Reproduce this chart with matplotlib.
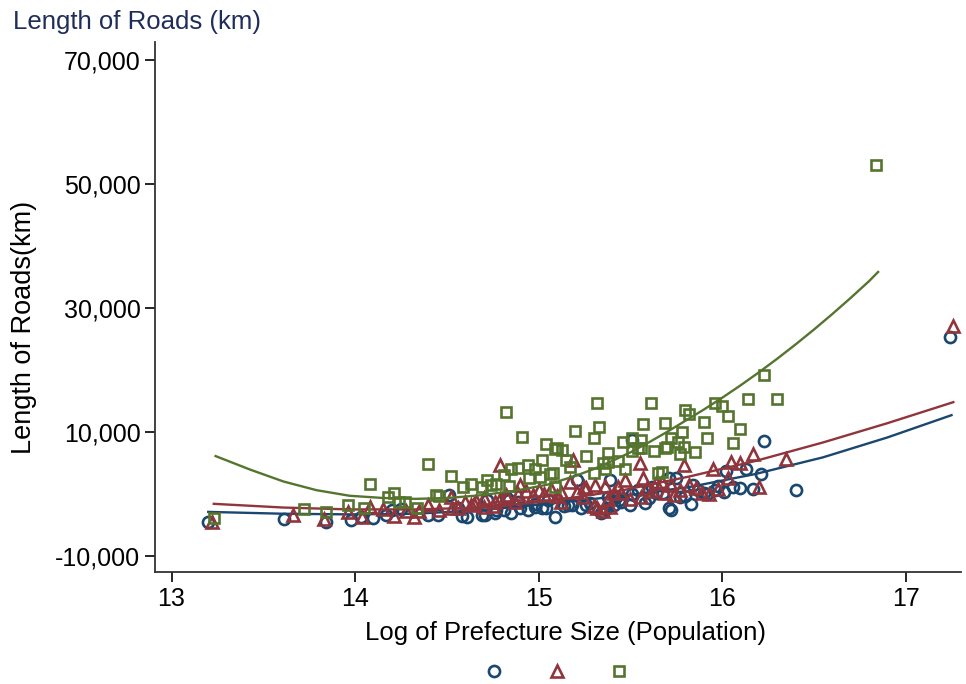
import numpy as np
import matplotlib
matplotlib.use("Agg")
import matplotlib.pyplot as plt
from matplotlib.lines import Line2D
from matplotlib.ticker import FuncFormatter

plt.rcParams['font.family'] = ['Liberation Sans', 'DejaVu Sans']

# log of prefecture population, and road length (km) for three series
blue_x = [13.20, 13.61, 13.84, 13.98, 14.03, 14.10, 14.17, 14.20, 14.25, 14.40,
          14.45, 14.51, 14.56, 14.58, 14.61, 14.69, 14.71, 14.72, 14.76, 14.77,
          14.81, 14.82, 14.84, 14.85, 14.89, 14.90, 14.94, 14.98, 14.98, 15.02,
          15.04, 15.05, 15.09, 15.14, 15.16, 15.18, 15.21, 15.23, 15.26, 15.28,
          15.30, 15.34, 15.35, 15.37, 15.38, 15.39, 15.41, 15.42, 15.44, 15.45,
          15.50, 15.51, 15.51, 15.54, 15.58, 15.60, 15.62, 15.64, 15.68, 15.71,
          15.71, 15.72, 15.75, 15.77, 15.80, 15.83, 15.84, 15.87, 15.90, 15.92,
          15.96, 15.98, 16.01, 16.02, 16.06, 16.10, 16.13, 16.17, 16.21, 16.23,
          16.40, 17.24]
blue_y = [-4500, -4000, -4500, -4200, -3700, -3900, -3400, -2600, -2400, -3400,
          -3400, -200, -2300, -3500, -3700, -3400, -3400, -1000, -3100, -2600,
          -2600, -500, -1000, -3100, -1300, -2300, -2600, -2100, -1600, -2300,
          -2300, -1000, -3700, -1900, -1800, -1800, 2300, -2300, -1800, -1500,
          -2300, -3100, -2900, -2400, -500, 2300, -1800, -500, -1000, -1300,
          -1800, 0, 8700, 600, -1500, -600, 1100, 200, 200, 2600,
          -2300, -2600, 2600, -500, -300, -1600, 1500, 600, 200, 0,
          600, 1300, 300, 3700, 1100, 1000, 4000, 800, 3200, 8500,
          600, 25300]

red_x = [13.22, 13.66, 13.83, 13.96, 14.04, 14.08, 14.15, 14.21, 14.28, 14.32,
         14.35, 14.40, 14.46, 14.52, 14.53, 14.56, 14.60, 14.63, 14.65, 14.66,
         14.70, 14.70, 14.75, 14.76, 14.79, 14.79, 14.82, 14.83, 14.87, 14.89,
         14.90, 14.93, 14.97, 15.00, 15.03, 15.07, 15.10, 15.12, 15.12, 15.17,
         15.19, 15.21, 15.24, 15.25, 15.26, 15.30, 15.31, 15.32, 15.35, 15.36,
         15.38, 15.39, 15.41, 15.43, 15.45, 15.47, 15.50, 15.55, 15.56, 15.57,
         15.59, 15.62, 15.64, 15.67, 15.69, 15.72, 15.74, 15.77, 15.79, 15.82,
         15.86, 15.89, 15.93, 15.95, 15.98, 16.03, 16.05, 16.10, 16.17, 16.20,
         16.35, 17.26]
red_y = [-4500, -3400, -4000, -2900, -3700, -2100, -2400, -3500, -2700, -3700,
         -2700, -1800, -2600, -500, -2300, -2300, -1300, -1800, -1600, -1100,
         -600, -2100, -1900, -1300, 4700, -800, -200, -500, -1300, 0,
         1500, 500, -200, 600, 0, 800, -300, -1300, 300, 1900,
         5500, 300, -500, 1100, 1000, -1900, 1500, -2300, -2700, 1300,
         -800, -2100, 200, 1100, 200, 2300, -800, 5000, -500, 2600,
         1000, 500, 1800, 1900, 200, 1500, -200, 600, 4700, 1500,
         1000, 200, 0, 4000, 800, 2600, 5200, 5000, 6500, 1100,
         5600, 27100]

green_x = [13.23, 13.72, 13.84, 13.96, 14.05, 14.08, 14.18, 14.21, 14.24, 14.27,
           14.34, 14.40, 14.44, 14.46, 14.52, 14.59, 14.63, 14.69, 14.72, 14.74,
           14.77, 14.81, 14.82, 14.84, 14.85, 14.89, 14.91, 14.94, 14.95, 14.98,
           15.01, 15.02, 15.04, 15.06, 15.08, 15.09, 15.09, 15.10, 15.13, 15.15,
           15.17, 15.20, 15.26, 15.30, 15.30, 15.32, 15.33, 15.35, 15.36, 15.38,
           15.38, 15.43, 15.46, 15.47, 15.51, 15.51, 15.54, 15.56, 15.56, 15.57,
           15.61, 15.63, 15.65, 15.67, 15.69, 15.69, 15.70, 15.72, 15.76, 15.77,
           15.78, 15.79, 15.80, 15.82, 15.85, 15.90, 15.92, 15.96, 16.00, 16.03,
           16.06, 16.10, 16.14, 16.23, 16.30, 16.84]
green_y = [-3900, -2400, -2900, -1800, -2300, 1600, -500, 200, -1300, -1300,
           -2300, 4800, -200, -300, 2900, 1100, 1600, 1100, 2300, 1500,
           1600, 3100, 13200, 1300, 4000, 4200, 9200, 4700, 2600, 4000,
           2700, 5500, 8100, 3200, 3400, 1100, 7300, 7400, 7100, 5500,
           4400, 10200, 6100, 9000, 3400, 14700, 10800, 5000, 4000, 6600,
           5200, 5300, 8400, 4000, 6900, 9000, 7400, 8700, 7400, 11300,
           14700, 6900, 3400, 3500, 11500, 7400, 7600, 9000, 8400, 6500,
           10000, 7600, 13500, 12900, 6800, 11600, 9000, 14700, 14200, 12600,
           8200, 10500, 15300, 19200, 15300, 53000]

# fitted (quadratic) lines
fit_blue_x = [13.20, 13.61, 13.97, 14.33, 14.69, 15.05, 15.46, 15.82, 16.18, 16.55, 16.90, 17.25]
fit_blue_y = [-2900, -3200, -3300, -3200, -2600, -1600, -300, 1100, 3200, 5900, 9100, 12700]
fit_red_x = [13.23, 13.61, 13.97, 14.33, 14.69, 15.05, 15.46, 15.82, 16.18, 16.55, 16.90, 17.26]
fit_red_y = [-1600, -2200, -2500, -2500, -2200, -1200, 600, 2800, 5300, 8300, 11400, 14800]
fit_green_x = [13.24, 13.43, 13.61, 13.79, 13.97, 14.15, 14.33, 14.51, 14.69, 14.87,
               15.05, 15.20, 15.30, 15.40, 15.50, 15.60, 15.70, 15.80, 15.90, 16.00,
               16.10, 16.20, 16.30, 16.40, 16.50, 16.60, 16.70, 16.80, 16.85]
fit_green_y = [6100, 3900, 2000, 600, -300, -650, -800, -650, -200, 500,
               1500, 2900, 4000, 5300, 6700, 8300, 10000, 11800, 13600, 15500,
               17500, 19600, 21800, 24100, 26500, 29000, 31600, 34300, 35800]

navy = '#1a476f'
maroon = '#90353b'
green = '#55752f'

fig = plt.figure(figsize=(9.66, 6.84), dpi=100)
ax = fig.add_axes([0.1605, 0.1637, 0.834, 0.775])

series = [(blue_x, blue_y, fit_blue_x, fit_blue_y, navy, 'o', 8.0),
          (red_x, red_y, fit_red_x, fit_red_y, maroon, '^', 8.8),
          (green_x, green_y, fit_green_x, fit_green_y, green, 's', 7.8)]
handles = []
for xs, ys, fx, fy, c, m, ms in series:
    ax.plot(xs, ys, linestyle='none', marker=m, markersize=ms,
            markerfacecolor='none', markeredgecolor=c, markeredgewidth=1.9)
    ax.plot(fx, fy, color=c, linewidth=1.7)
    handles.append(Line2D([], [], linestyle='none', marker=m, markersize=ms,
                          markerfacecolor='none', markeredgecolor=c,
                          markeredgewidth=1.9))

ax.set_xlim(12.91, 17.30)
ax.set_ylim(-12600, 72900)
ax.set_xticks([13, 14, 15, 16, 17])
ax.set_yticks([-10000, 10000, 30000, 50000, 70000])
ax.yaxis.set_major_formatter(FuncFormatter(lambda v, p: f'{int(v):,}'))
ax.tick_params(labelsize=18, length=7, width=1.2, colors='black')
for s in ['top', 'right']:
    ax.spines[s].set_visible(False)
for s in ['left', 'bottom']:
    ax.spines[s].set_linewidth(1.3)
    ax.spines[s].set_color('#333333')

ax.set_xlabel('Log of Prefecture Size (Population)', fontsize=18.5)
ax.xaxis.set_label_coords(0.509, -0.093)
ax.set_ylabel('Length of Roads(km)', fontsize=19.5)
ax.yaxis.set_label_coords(-0.147, 0.462)
fig.text(0.013, 0.968, 'Length of Roads (km)', fontsize=18.5, color='#1e2d5a',
         ha='left', va='center')

fig.legend(handles, ['', '', ''], ncol=3, frameon=False, loc='center',
           bbox_to_anchor=(0.5766, 1 - 672 / 684), handlelength=1.0,
           handletextpad=0.0, columnspacing=3.5, fontsize=10)

fig.savefig('out.png', dpi=100)
